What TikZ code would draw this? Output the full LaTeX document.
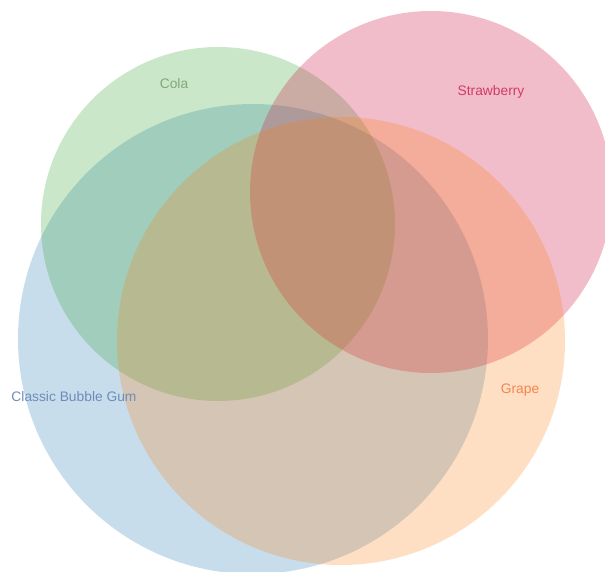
\documentclass[tikz,border=0pt]{standalone}
\usepackage{fontspec}
\setmainfont{Liberation Sans}
\definecolor{gumBlue}{HTML}{1F77B4}
\definecolor{colaGreen}{HTML}{2CA02C}
\definecolor{strawPink}{HTML}{D0234E}
\definecolor{grapeOrange}{HTML}{FF7F0E}
\definecolor{gumText}{HTML}{6E8CB8}
\definecolor{colaText}{HTML}{80A878}
\definecolor{strawText}{HTML}{D03C66}
\definecolor{grapeText}{HTML}{F5844E}

\begin{document}
\begin{tikzpicture}[x=1pt, y=-1pt,
  set/.style={circle, inner sep=0pt, fill opacity=0.25},
  lbl/.style={font=\fontsize{13.8}{16}\selectfont, inner sep=0pt}]
  \useasboundingbox (0,0) rectangle (605,572);
  \node[set, fill=gumBlue, minimum size=470pt] (gum) at (253,339) {};
  \node[set, fill=colaGreen, minimum size=354pt] (cola) at (218,224) {};
  \node[set, fill=strawPink, fill opacity=0.3, minimum size=362pt] (straw) at (431,192) {};
  \node[set, fill=grapeOrange, minimum size=448pt] (grape) at (341,341) {};
  \node[lbl, text=colaText] (colaLbl) at (174,84) {Cola};
  \node[lbl, text=strawText] (strawLbl) at (491,92) {Strawberry};
  \node[lbl, text=gumText] (gumLbl) at (74,397) {Classic Bubble Gum};
  \node[lbl, text=grapeText] (grapeLbl) at (520,390) {Grape};
\end{tikzpicture}
\end{document}
